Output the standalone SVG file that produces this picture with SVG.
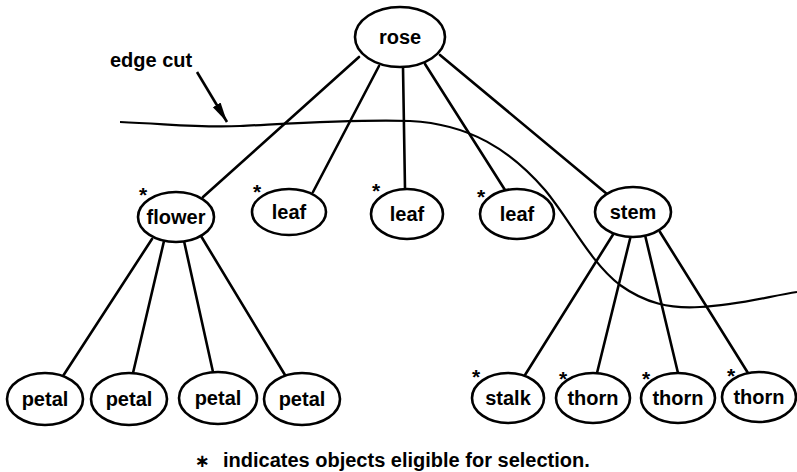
<svg xmlns="http://www.w3.org/2000/svg" width="797" height="472" viewBox="0 0 797 472">
  <style>
    .node ellipse { fill: #fff; stroke: #000; stroke-width: 2.6; }
    .node text { font-family: "Liberation Sans", Arial, sans-serif; font-weight: bold; font-size: 20px; text-anchor: middle; fill: #000; }
    .star { font-family: "Liberation Sans", Arial, sans-serif; font-weight: bold; font-size: 21px; text-anchor: middle; fill: #000; }
    .edges line { stroke: #000; stroke-width: 2.6; stroke-linecap: round; }
    .cut { fill: none; stroke: #000; stroke-width: 2.2; }
    .label { font-family: "Liberation Sans", Arial, sans-serif; font-weight: bold; font-size: 20px; fill: #000; }
  </style>
  <defs>
    <marker id="head" markerUnits="userSpaceOnUse" markerWidth="22" markerHeight="10" refX="20" refY="5" orient="auto">
      <path d="M0,0.5 L20,5 L0,9.5 z" fill="#000"/>
    </marker>
  </defs>
  <rect width="797" height="472" fill="#fff"/>

  <!-- tree edges -->
  <g id="connectors" class="edges">
    <line x1="359" y1="57" x2="203" y2="197"/>
    <line x1="379" y1="66" x2="313" y2="192"/>
    <line x1="403" y1="67" x2="405" y2="189"/>
    <line x1="425" y1="64" x2="505" y2="190"/>
    <line x1="440" y1="55" x2="607" y2="194"/>
    <line x1="152" y1="239" x2="63" y2="376"/>
    <line x1="164" y1="241" x2="133" y2="373"/>
    <line x1="184" y1="241" x2="213" y2="372"/>
    <line x1="201" y1="236" x2="285" y2="375"/>
    <line x1="614" y1="233" x2="525" y2="375"/>
    <line x1="631" y1="235" x2="597" y2="373"/>
    <line x1="645" y1="235" x2="678" y2="373"/>
    <line x1="660" y1="232" x2="748" y2="373"/>
  </g>

  <!-- the cut line and its pointer -->
  <g id="edge-cut">
    <path class="cut" d="M120,122 C170,124 200,128 240,126 C300,123 360,119 410,121 C470,124 510,150 545,190 C570,220 590,262 620,285 C645,303 670,309 700,307 C740,305 770,296 797,292"/>
    <line x1="197" y1="72" x2="227" y2="122" stroke="#000" stroke-width="2.6" marker-end="url(#head)"/>
    <text class="label" x="110" y="67">edge cut</text>
  </g>

  <g id="rose" class="node"><ellipse cx="400" cy="37" rx="45" ry="30"/><text x="400" y="44">rose</text></g>
  <g id="flower" class="node"><ellipse cx="176" cy="217" rx="38" ry="25"/><text x="176" y="224">flower</text></g>
  <g id="leaf1" class="node"><ellipse cx="289" cy="212" rx="37" ry="23"/><text x="289" y="219">leaf</text></g>
  <g id="leaf2" class="node"><ellipse cx="407" cy="214" rx="36" ry="25"/><text x="407" y="221">leaf</text></g>
  <g id="leaf3" class="node"><ellipse cx="517" cy="214" rx="37" ry="25"/><text x="517" y="221">leaf</text></g>
  <g id="stem" class="node"><ellipse cx="633" cy="212" rx="38" ry="25"/><text x="633" y="219">stem</text></g>
  <g id="petal1" class="node"><ellipse cx="45" cy="399" rx="38" ry="26"/><text x="45" y="406">petal</text></g>
  <g id="petal2" class="node"><ellipse cx="129" cy="399" rx="38" ry="26"/><text x="129" y="406">petal</text></g>
  <g id="petal3" class="node"><ellipse cx="218" cy="398" rx="39" ry="26"/><text x="218" y="405">petal</text></g>
  <g id="petal4" class="node"><ellipse cx="302" cy="399" rx="38" ry="26"/><text x="302" y="406">petal</text></g>
  <g id="stalk" class="node"><ellipse cx="508" cy="398" rx="36" ry="25"/><text x="508" y="405">stalk</text></g>
  <g id="thorn1" class="node"><ellipse cx="593" cy="398" rx="37" ry="25"/><text x="593" y="405">thorn</text></g>
  <g id="thorn2" class="node"><ellipse cx="678" cy="398" rx="37" ry="25"/><text x="678" y="405">thorn</text></g>
  <g id="thorn3" class="node"><ellipse cx="759" cy="397" rx="37" ry="25"/><text x="759" y="404">thorn</text></g>

  <!-- selectable markers -->
  <g id="markers">
    <text class="star" x="143" y="202">*</text>
    <text class="star" x="257" y="199">*</text>
    <text class="star" x="376" y="198">*</text>
    <text class="star" x="481" y="204">*</text>
    <text class="star" x="476" y="384">*</text>
    <text class="star" x="563" y="386">*</text>
    <text class="star" x="646" y="386">*</text>
    <text class="star" x="731" y="383">*</text>
  </g>

  <g id="legend">
    <text x="202" y="467" font-family="'DejaVu Sans', sans-serif" font-weight="bold" font-size="18" text-anchor="middle">∗</text>
    <text class="label" x="223" y="467">indicates objects eligible for selection.</text>
  </g>
</svg>
